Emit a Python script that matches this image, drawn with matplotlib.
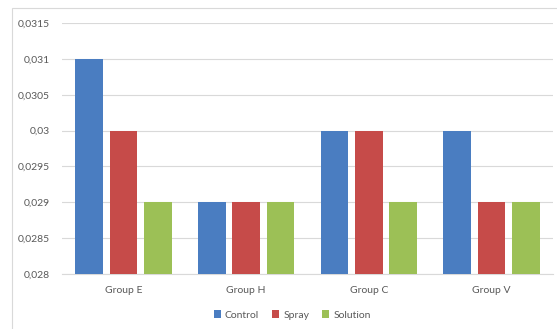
import matplotlib
matplotlib.use("Agg")
import matplotlib.pyplot as plt
import numpy as np
from matplotlib.patches import Rectangle
from matplotlib.ticker import FuncFormatter

categories = ["Group E", "Group H", "Group C", "Group V"]
control = [0.031, 0.029, 0.030, 0.030]
spray = [0.030, 0.029, 0.030, 0.029]
solution = [0.029, 0.029, 0.029, 0.029]
series_names = ["Control", "Spray", "Solution"]
colors = ["#4a7dc1", "#c64b49", "#9cc056"]

plt.rcParams["font.family"] = ["Lato", "DejaVu Sans"]

fig = plt.figure(figsize=(5.57, 3.29), dpi=100)
fig.patch.set_facecolor("white")
fig.patches.append(Rectangle((12 / 557, -0.05), 1.1, 1 - 8 / 329 + 0.05,
                             transform=fig.transFigure, fill=False,
                             edgecolor="#d9d9d9", linewidth=0.8))

ax = fig.add_axes([62 / 557, 1 - 274 / 329, 491 / 557, (274 - 23) / 329])
x = np.arange(len(categories))
width = 0.225
step = 0.28
ymin = 0.028
for i, (vals, c) in enumerate(zip([control, spray, solution], colors)):
    ax.bar(x + (i - 1) * step, np.array(vals) - ymin, width, bottom=ymin,
           color=c, label=series_names[i], zorder=3)

ax.set_xlim(-0.5, len(categories) - 0.5)
ax.set_ylim(0.028, 0.0315)
ax.set_yticks(np.arange(0.028, 0.03151, 0.0005))
ax.yaxis.set_major_formatter(FuncFormatter(
    lambda v, p: ("%.4f" % v).rstrip("0").rstrip(".").replace(".", ",")))
ax.set_xticks(x)
ax.set_xticklabels(categories)
ax.grid(axis="y", color="#d9d9d9", linewidth=0.8, zorder=0)
for s in ["top", "right", "left"]:
    ax.spines[s].set_visible(False)
ax.spines["bottom"].set_color("#d9d9d9")
ax.tick_params(axis="both", length=0, labelsize=7.5, colors="#595959")
ax.tick_params(axis="y", pad=9)
ax.tick_params(axis="x", pad=8.5)

leg = fig.legend(loc="center", bbox_to_anchor=(292 / 557, 1 - 315 / 329),
                 ncol=3, frameon=False, fontsize=7.5, handlelength=0.7,
                 handleheight=0.7, handletextpad=0.4, columnspacing=1.2)
for t in leg.get_texts():
    t.set_color("#595959")

fig.savefig("out.png", dpi=100, facecolor="white")
